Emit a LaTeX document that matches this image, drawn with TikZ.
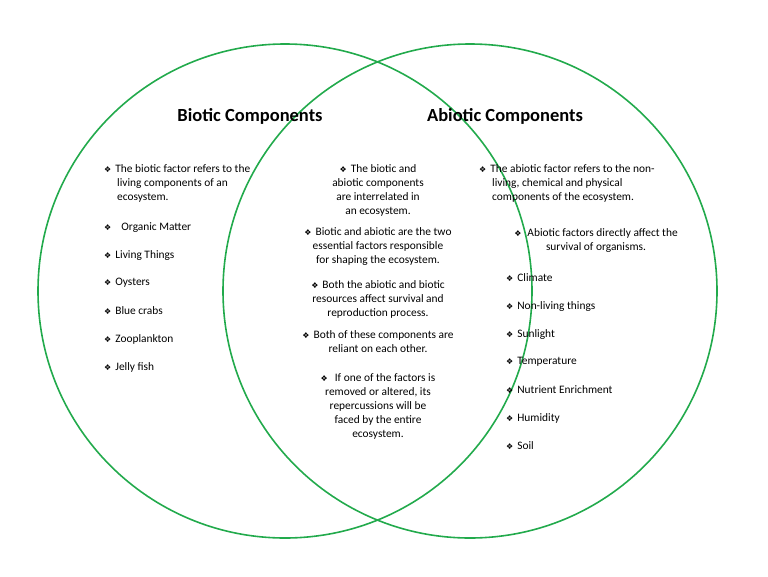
\documentclass[tikz,border=0pt]{standalone}
\usepackage{fontspec}
\setmainfont{Carlito}
\newfontfamily\symfont{DejaVu Sans}
\usetikzlibrary{positioning}
\definecolor{venngreen}{RGB}{34,170,76}
\newcommand{\bul}{{\symfont\fontsize{8}{8}\selectfont ❖}\hspace{4pt}}
\tikzset{Ring/.style={draw=venngreen, line width=1.6pt},
         Head/.style={font=\fontsize{18.5}{20}\selectfont\bfseries, inner sep=0pt},
         Entry/.style={font=\fontsize{11.4}{14}\selectfont, inner sep=0pt, anchor=north west, align=left},
         Mid/.style={font=\fontsize{11.4}{14}\selectfont, inner sep=0pt, anchor=north, align=center}}
\begin{document}
\begin{tikzpicture}[x=1pt, y=-1pt]
  \useasboundingbox (0,0) rectangle (768,576);
  \draw[Ring] (285,291) circle[radius=247];
  \draw[Ring] (470,291) circle[radius=247];
  \node[Head] (Tbio) at (250,116) {Biotic Components};
  \node[Head] (Tabio) at (505,116) {Abiotic Components};
  % left set
  \node[Entry] (L1) at (104,164) {\bul The biotic factor refers to the\\\hspace{13pt}living components of an\\\hspace{13pt}ecosystem.};
  \node[Entry] (L2) at (104,222) {\bul\hspace{6pt}Organic Matter};
  \node[Entry] (L3) at (104,250) {\bul Living Things};
  \node[Entry] (L4) at (104,278) {\bul Oysters};
  \node[Entry] (L5) at (104,306) {\bul Blue crabs};
  \node[Entry] (L6) at (104,334) {\bul Zooplankton};
  \node[Entry] (L7) at (104,362) {\bul Jelly fish};
  % middle
  \node[Mid] (M1) at (378,164) {\bul The biotic and\\abiotic components\\are interrelated in\\an ecosystem.};
  \node[Mid] (M2) at (378,227) {\bul Biotic and abiotic are the two\\essential factors responsible\\for shaping the ecosystem.};
  \node[Mid] (M3) at (378,280) {\bul Both the abiotic and biotic\\resources affect survival and\\reproduction process.};
  \node[Mid] (M4) at (378,330) {\bul Both of these components are\\reliant on each other.};
  \node[Mid] (M5) at (378,373) {\bul\hspace{3pt}If one of the factors is\\removed or altered, its\\repercussions will be\\faced by the entire\\ecosystem.};
  % right set
  \node[Entry] (R1) at (479,164) {\bul The abiotic factor refers to the non-\\\hspace{13pt}living, chemical and physical\\\hspace{13pt}components of the ecosystem.};
  \node[Mid] (R2) at (596,228) {\bul\hspace{2pt}Abiotic factors directly affect the\\survival of organisms.};
  \node[Entry] (R3) at (506,273) {\bul Climate};
  \node[Entry] (R4) at (506,301) {\bul Non-living things};
  \node[Entry] (R5) at (506,329) {\bul Sunlight};
  \node[Entry] (R6) at (506,357) {\bul Temperature};
  \node[Entry] (R7) at (506,385) {\bul Nutrient Enrichment};
  \node[Entry] (R8) at (506,413) {\bul Humidity};
  \node[Entry] (R9) at (506,441) {\bul Soil};
\end{tikzpicture}
\end{document}
